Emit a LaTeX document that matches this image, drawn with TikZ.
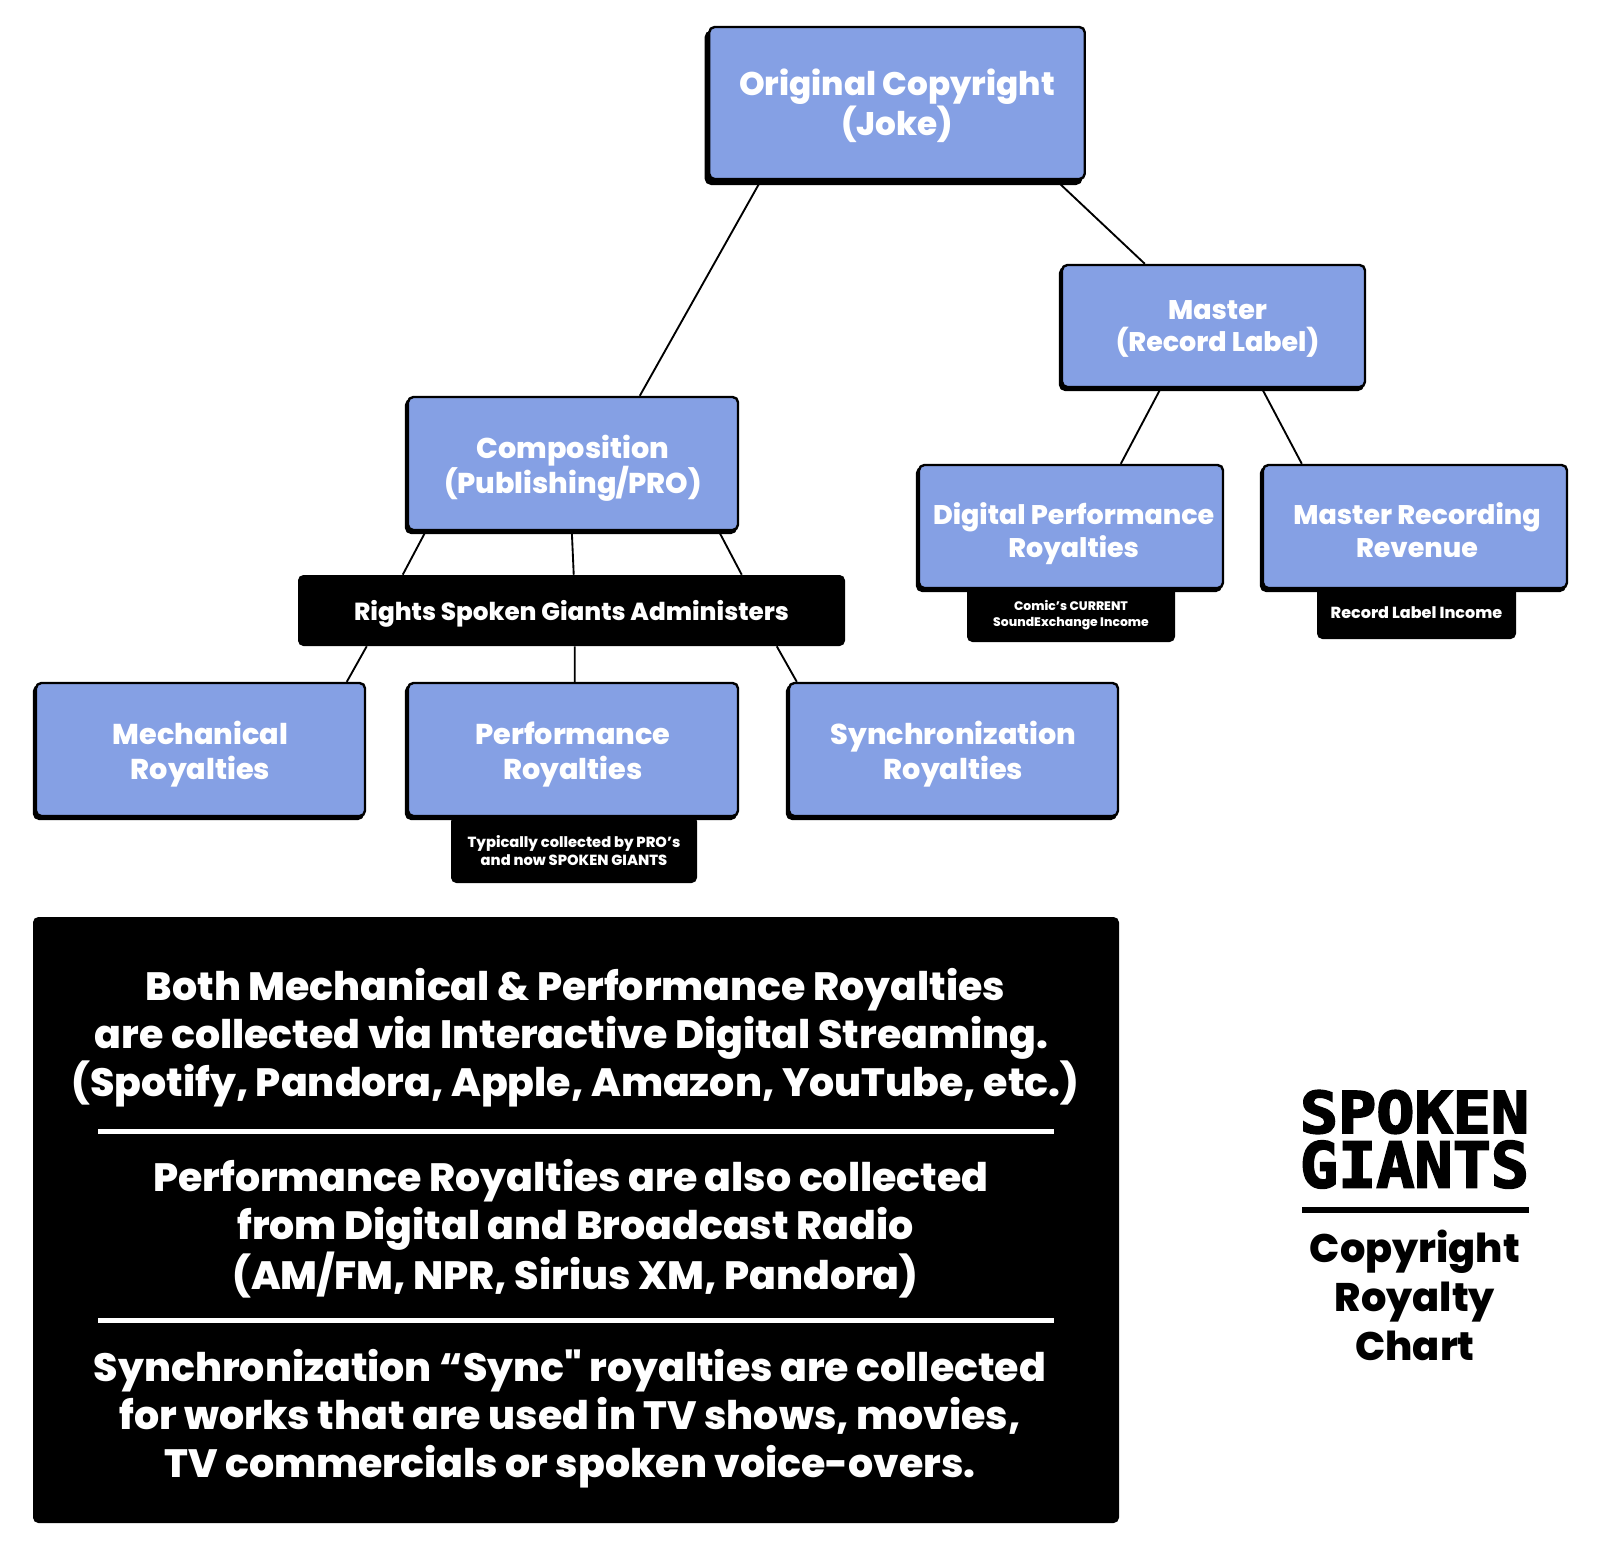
\documentclass[tikz,border=0pt]{standalone}
\usepackage{fontspec}
\setmainfont{Poppins}[BoldFont={Poppins ExtraBold},Ligatures=TeXOff]
\newfontfamily\logofont{DejaVu Sans Mono}[BoldFeatures={FakeBold=3}]
\usetikzlibrary{calc,shadows}
\definecolor{cardblue}{HTML}{85A0E4}
\newcommand{\nudge}[1]{\hspace*{#1}}

\tikzset{
  boxsize/.style 2 args={minimum width=#1*0.75pt,minimum height=#2*0.75pt},
  % the rules stand beside the text, #1 is the height of the lines above the last one
  evenlines/.style={execute at begin node={\rule{0pt}{\dimexpr1.05em+#1\relax}},execute at end node={\rule[-0.35em]{0pt}{0.35em}}},
  card/.style={draw=black,line width=1.8pt,fill=cardblue,rounded corners=4pt,
    text=white,align=center,inner sep=0pt},
  bigcard/.style={card,evenlines=31pt,copy shadow={draw=black,fill=black,shadow xshift=-2.6pt,shadow yshift=-3.6pt},
    font=\bfseries\fontsize{24.5}{30}\selectfont},
  midcard/.style={card,evenlines=24.5pt,copy shadow={draw=black,fill=black,shadow xshift=-1.5pt,shadow yshift=-2.2pt},
    font=\bfseries\fontsize{20.2}{24.5}\selectfont},
  lowcard/.style={midcard,evenlines=30.5pt,font=\bfseries\fontsize{21.5}{26.3}\selectfont},
  tag/.style={fill=black,rounded corners=4pt,text=white,align=center,inner sep=0pt},
  panel/.style={fill=black,rounded corners=4pt,text=white,align=center,inner sep=0pt},
  paneltext/.style={text=white,align=center,inner sep=0pt,evenlines=0pt,
    font=\bfseries\fontsize{29.6}{36}\selectfont},
  divider/.style={inner sep=0pt,minimum height=4pt},
  link/.style={draw=black,line width=1.4pt},
}

\begin{document}
\begin{tikzpicture}[x=0.75pt,y=-0.75pt]
  \useasboundingbox (0,0) rectangle (1600,1550);

  % tags sit under the cards
  \node[tag,evenlines=13pt,boxsize={208}{57},font=\bfseries\fontsize{9.3}{11.8}\selectfont] (comic)  at (1071,613.5) {Comic’s CURRENT\\SoundExchange Income};
  \node[tag,evenlines=1pt,boxsize={199}{54},font=\bfseries\fontsize{12}{14}\selectfont] (record) at (1416.5,612) {Record Label Income};
  \node[tag,evenlines=16.6pt,boxsize={246}{67},font=\bfseries\fontsize{11}{13.6}\selectfont] (typ)    at (574,849.5)  {Typically collected by PRO’s\\and now SPOKEN GIANTS};

  \node[bigcard,boxsize={375.5}{152}] (joke)   at (897,103)      {Original Copyright\\(Joke)};
  \node[midcard,boxsize={303}{122}] (master) at (1213.5,326)   {\nudge{6pt}Master\\\nudge{6pt}(Record Label)};
  \node[lowcard,evenlines=25pt,boxsize={330}{133}] (comp)   at (573,463.5)    {Composition\\(Publishing/PRO)};
  \node[midcard,evenlines=32pt,boxsize={304}{123}] (digi)   at (1071,526.5)   {\nudge{4pt}Digital Performance\\\nudge{4pt}Royalties};
  \node[midcard,evenlines=32pt,boxsize={304}{123}] (rec)    at (1415,526.5)   {\nudge{3pt}Master Recording\\\nudge{3pt}Revenue};
  \node[lowcard,boxsize={329}{133}] (mech)   at (200.5,749.5)  {Mechanical\\Royalties};
  \node[lowcard,boxsize={330}{133}] (perf)   at (573,749.5)    {Performance\\Royalties};
  \node[lowcard,boxsize={329}{133}] (sync)   at (953.5,749.5)  {Synchronization\\Royalties};

  \node[panel,evenlines=1.5pt,boxsize={547}{71},font=\bfseries\fontsize{18.5}{22}\selectfont] (rights) at (571.5,610.5) {Rights Spoken Giants Administers};

  \path[link] ($(joke.south west)+(53,0)$) edge ($(comp.north west)+(233,0)$)
              ($(joke.south west)+(348,0)$) edge ($(master.north west)+(84,0)$)
              ($(master.south west)+(100,0)$) edge ($(digi.north west)+(203,0)$)
              ($(master.south west)+(201,0)$) edge ($(rec.north west)+(40,0)$)
              ($(comp.south west)+(19,0)$) edge ($(rights.north west)+(105,0)$)
              ($(comp.south west)+(165,0)$) edge ($(rights.north west)+(276,0)$)
              ($(comp.south west)+(312,0)$) edge ($(rights.north west)+(444,0)$)
              ($(rights.south west)+(69,0)$) edge ($(mech.north west)+(312,0)$)
              ($(rights.south west)+(277,0)$) edge ($(perf.north west)+(168,0)$)
              ($(rights.south west)+(479,0)$) edge ($(sync.north west)+(9,0)$);

  \node[panel,boxsize={1086}{606}] (info) at (576,1220) {};
  \node[paneltext] (both) at (575.5,1039.5) {Both Mechanical \& Performance Royalties\\\nudge{-6pt}are collected via Interactive Digital Streaming.\\(Spotify, Pandora, Apple, Amazon, YouTube, etc.)};
  \node[divider,fill=white,boxsize={956}{5}] (lineone) at (576,1131) {};
  \node[paneltext] (radio) at (575.5,1231.5) {\nudge{-7pt}Performance Royalties are also collected\\from Digital and Broadcast Radio\\(AM/FM, NPR, Sirius XM, Pandora)};
  \node[divider,fill=white,boxsize={956}{5}] (linetwo) at (576,1320) {};
  \node[paneltext] (syncnote) at (570,1420) {Synchronization “Sync" royalties are collected\\for works that are used in TV shows, movies,\\TV commercials or spoken voice-overs.};

  \node[inner sep=0pt] (spoken) at (1414.5,1112) {\resizebox{171.75pt}{32pt}{\logofont\bfseries SPOKEN}};
  \node[inner sep=0pt] (giants) at (1414.5,1164.5) {\resizebox{171.75pt}{35pt}{\logofont\bfseries GIANTS}};
  \node[divider,fill=black,boxsize={227}{6}] (logoline) at (1415.5,1210) {};
  \node[align=center,inner sep=0pt,evenlines=0pt,font=\bfseries\fontsize{29.9}{36.8}\selectfont] (chart) at (1415,1302) {Copyright\\Royalty\\Chart};
\end{tikzpicture}
\end{document}
